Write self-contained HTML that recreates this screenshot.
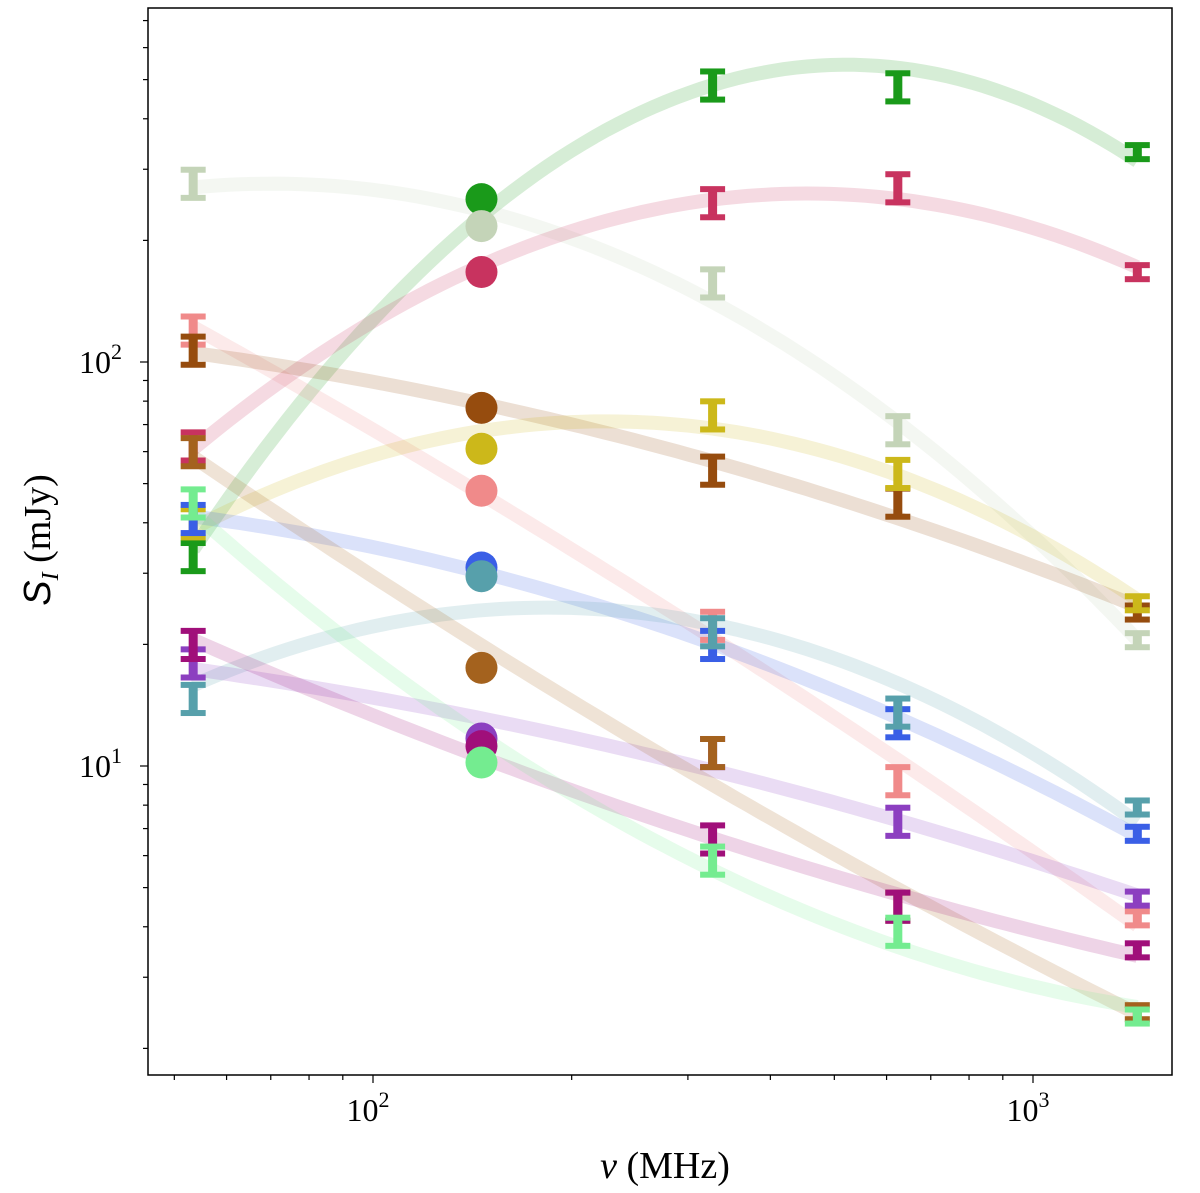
<!DOCTYPE html>
<html><head><meta charset="utf-8"><style>
html,body{margin:0;padding:0;background:#fff;}
svg{display:block;font-family:"Liberation Serif",serif;}
</style></head><body>
<svg id="chart" width="1200" height="1193" viewBox="0 0 1200 1193" xmlns="http://www.w3.org/2000/svg">
<g id="curves"></g>
<g id="marks"></g>
<g id="axes"></g>
</svg>
<script>
const freqs = [53.4, 146, 327, 624, 1439];
const seriesNames = ["green","sage","crimson","salmon","brown","gold","blue","teal","purple","orange-brown","magenta","light-green"];
const seriesColors = ["#1a9a1a","#c4d4b8","#c8335f","#f08a8a","#964c0e","#ccb81a","#3a5fe6","#57a0ab","#8c3fc0","#a4621e","#a00f7a","#74ec90"];
const green = [33, 253, 485, 480, 331];
const sage = [277, 217, 157, 68, 20.5];
const crimson = [62, 167, 248, 270, 167];
const salmon = [120, 48, 22.3, 9.2, 4.2];
const brown = [107, 77, 54, 45, 24];
const gold = [40, 61, 74, 53, 25.3];
const blue = [41, 31, 20, 12.8, 6.8];
const teal = [14.7, 29.5, 21.5, 13.6, 7.9];
const purple = [18, 11.7, 10.8, 7.3, 4.7];
const orangeBrown = [60, 17.5, 10.8, 4.5, 2.46];
const magenta = [20, 11.2, 6.6, 4.5, 3.5];
const lightGreen = [44.8, 10.2, 5.85, 3.9, 2.4];
const relErr = [0.08, 0.05, 0.08, 0.08, 0.04];
const xTickVals = [100, 1000];
const xTickLabels = ["2", "3"];
const yTickVals = [10, 100];
const yTickLabels = ["1", "2"];

const allSeries = [green, sage, crimson, salmon, brown, gold, blue, teal, purple, orangeBrown, magenta, lightGreen];
const NS = "http://www.w3.org/2000/svg";
const L = 148, R = 1172, T = 8, B = 1075;
function xs(v){ return 373 + (Math.log10(v) - 2) * 660; }
function ys(v){ return 362 - (Math.log10(v) - 2) * 404; }
function mk(tag, attrs, parent){ const e = document.createElementNS(NS, tag); for (const k in attrs) e.setAttribute(k, attrs[k]); parent.appendChild(e); return e; }

function fit(vals){
  const X = freqs.map(f => Math.log10(f)), Y = vals.map(v => Math.log10(v));
  let S=[0,0,0,0,0], Ty=[0,0,0];
  for (let i=0;i<X.length;i++){ let p=1; for(let k=0;k<5;k++){S[k]+=p; if(k<3) Ty[k]+=p*Y[i]; p*=X[i];} }
  const A=[[S[0],S[1],S[2],Ty[0]],[S[1],S[2],S[3],Ty[1]],[S[2],S[3],S[4],Ty[2]]];
  for (let i=0;i<3;i++){ for(let j=i+1;j<3;j++){ const f=A[j][i]/A[i][i]; for(let k=i;k<4;k++) A[j][k]-=f*A[i][k]; } }
  const c=[0,0,0];
  for (let i=2;i>=0;i--){ let s=A[i][3]; for(let k=i+1;k<3;k++) s-=A[i][k]*c[k]; c[i]=s/A[i][i]; }
  return c;
}
const curves = document.getElementById('curves');
const marks = document.getElementById('marks');
allSeries.forEach((vals, si) => {
  const c = fit(vals);
  let d = "";
  const a = Math.log10(freqs[0]), b = Math.log10(freqs[freqs.length-1]);
  for (let i=0;i<=80;i++){ const lx = a + (b-a)*i/80; const ly = c[0]+c[1]*lx+c[2]*lx*lx; d += (i?"L":"M") + xs(Math.pow(10,lx)).toFixed(1) + "," + ys(Math.pow(10,ly)).toFixed(1); }
  const p = mk('path', {d:d, fill:'none', stroke:seriesColors[si], 'stroke-width':14, 'stroke-opacity':0.18}, curves);
  
  
});
allSeries.forEach((vals, si) => {
  const col = seriesColors[si];
  vals.forEach((v, i) => {
    const x = xs(freqs[i]);
    if (i === 1){
      const ci = mk('circle', {cx:x, cy:ys(v), r:16, fill:col}, marks);
      
      
    } else {
      const yt = ys(v*(1+relErr[i])), yb = ys(v*(1-relErr[i]));
      const g = mk('g', {fill:col}, marks);
      
      
      mk('rect', {x:x-4.5, y:yt, width:9, height:yb-yt}, g);
      mk('rect', {x:x-12.5, y:yt-3, width:25, height:6}, g);
      mk('rect', {x:x-12.5, y:yb-3, width:25, height:6}, g);
    }
  });
});
const ax = document.getElementById('axes');
const fr = mk('rect', {x:L, y:T, width:R-L, height:B-T, fill:'none', stroke:'#000', 'stroke-width':1.5}, ax);


for (let dec=1; dec<=1000; dec*=10){
  for (let m=1;m<10;m++){
    const v = dec*m;
    const x = xs(v);
    if (x>=L && x<=R) mk('line', {x1:x, x2:x, y1:B, y2:B+(m===1?8:5), stroke:'#000', 'stroke-width':1.2}, ax);
    const y = ys(v);
    if (y>=T && y<=B) mk('line', {x1:L, x2:L-(m===1?8:5), y1:y, y2:y, stroke:'#000', 'stroke-width':1.2}, ax);
  }
}
xTickVals.forEach((v,i) => {
  const t = mk('text', {x:xs(v)-5, y:1121, 'text-anchor':'middle', 'font-size':32}, ax);
  
  
  t.innerHTML = '10<tspan dy="-14" font-size="22">' + xTickLabels[i] + '</tspan>';
});
yTickVals.forEach((v,i) => {
  const t = mk('text', {x:122, y:ys(v)+11, 'text-anchor':'end', 'font-size':32}, ax);
  
  
  t.innerHTML = '10<tspan dy="-14" font-size="22">' + yTickLabels[i] + '</tspan>';
});
const xl = mk('text', {x:665, y:1178, 'text-anchor':'middle', 'font-size':38}, ax);


xl.innerHTML = '<tspan font-style="italic">ν</tspan> (MHz)';
const yl = mk('text', {x:0, y:0, 'text-anchor':'middle', 'font-size':38, transform:'translate(50,540) rotate(-90)'}, ax);


yl.innerHTML = '<tspan font-style="italic" font-family="Liberation Sans, sans-serif">S</tspan><tspan font-style="italic" font-size="24" dy="8">I</tspan><tspan dy="-8"> (mJy)</tspan>';
</script>
</body></html>
